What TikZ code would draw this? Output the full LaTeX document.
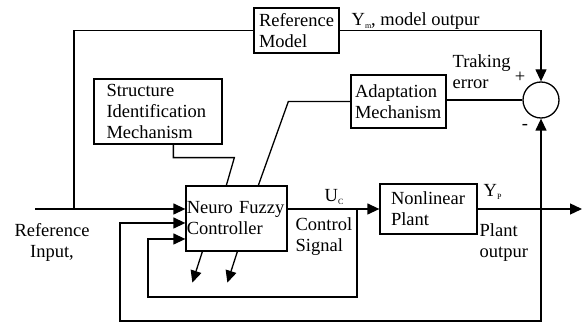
\documentclass[tikz,border=0pt]{standalone}
\usepackage{fontspec}
\setmainfont{Liberation Serif}
\usetikzlibrary{arrows.meta,calc}
\newcommand{\sbs}[1]{\raisebox{-2.5pt}{\fontsize{8}{8}\selectfont #1}}
\begin{document}
\begin{tikzpicture}[x=1pt,y=-1pt,
  line width=1.3pt,
  txt/.style={font=\fontsize{18.5}{21}\selectfont, inner sep=0pt},
  blk/.style={draw, line width=1.3pt, txt, align=left},
  arr/.style={-{Triangle[length=12pt,width=11pt]}},
]
\useasboundingbox (0,0) rectangle (582,323);

% blocks
\node[blk, minimum width=85pt, minimum height=45pt, text width=75pt] (rm) at (296.5,30.5) {Reference\\Model};
\node[blk, minimum width=128pt, minimum height=65pt, text width=103pt] (sim) at (158,111.5) {Structure\\Identification\\Mechanism};
\node[blk, minimum width=95pt, minimum height=53pt, text width=87pt] (am) at (398.5,101.5) {Adaptation\\Mechanism};
\node[blk, minimum width=101pt, minimum height=65pt, text width=99.5pt] (nf) at (236.5,218.5) {Neuro~Fuzzy\\Controller};
\node[blk, minimum width=97pt, minimum height=50pt, text width=75pt] (np) at (428.5,209) {Nonlinear\\Plant};
\node[draw, circle, minimum size=36pt, inner sep=0pt, line width=1.3pt] (sum) at (541,100) {};

% labels
\node[txt, anchor=base west] (ym) at (351,26) {Y\sbs{m}, model outpur};
\node[txt, anchor=west, align=left] (te) at (452,71.2) {Traking\\error};
\node[txt] (plus) at (520,77) {+};
\node[txt] (minus) at (525,127) {-};
\node[txt, anchor=base west] (uc) at (324,202) {U\sbs{C}};
\node[txt, anchor=west, align=left] (cs) at (295,236.2) {Control\\Signal};
\node[txt, anchor=base west] (yp) at (483,197) {Y\sbs{P}};
\node[txt, anchor=west, align=left] (po) at (479,242.2) {Plant\\outpur};
\node[txt, align=center] (ri) at (52,242.2) {Reference\\Input,};

% coordinates
\coordinate (in) at (35,209);
\coordinate (j1) at (74,209);
\coordinate (jU) at (357,209);
\coordinate (jY) at (541,209);
\coordinate (out) at (582,209);

% connectors
\draw[arr] (in) -- (in -| nf.west);
\draw (j1) |- (rm.west);
\draw[arr] (rm.east) -| (sum.north);
\draw (sum.west) -- (sum.west -| am.east);
\draw (am.west) -- ++(-62,0) -- ($(nf.north west)+(73,0)$);
\draw ($(sim.south west)+(80,0)$) -- ++(0,13) -- ++(61,0) -- ($(nf.north west)+(41,0)$);
\draw[arr] (nf.east |- np.west) -- (np.west);
\draw[arr] (np.east) -- (out);
\draw[arr] (jY) -- (sum.south);
\draw[arr] (jY) -- (jY |- 0,321) -| (120,223) -- (nf.west |- 0,223);
\draw[arr] (jU) -- (jU |- 0,297) -| (148,239) -- (nf.west |- 0,239);
\draw[arr] ($(nf.south west)+(17,0)$) -- ++(-10,31);
\draw[arr] ($(nf.south west)+(52,0)$) -- ++(-10,31);
\end{tikzpicture}
\end{document}
